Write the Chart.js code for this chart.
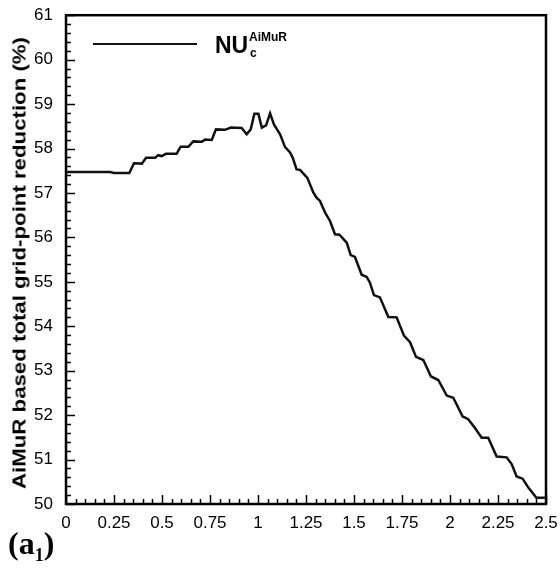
<!DOCTYPE html>
<html>
<head>
<meta charset="utf-8">
<script src="https://cdn.jsdelivr.net/npm/chart.js@4/dist/chart.umd.min.js"></script>
<style>
  body { margin: 0; background: #fff; }
  #wrap { position: relative; width: 560px; height: 569px; }
  .lbl { position: absolute; font-family: "Liberation Sans", Arial, sans-serif; font-weight: bold; white-space: nowrap; color: #000; }
  #swatch { position: absolute; left: 93px; top: 43px; width: 104px; height: 0; border-top: 2.5px solid #111; }
  #nu { left: 215px; top: 34px; font-size: 23px; line-height: 23px; }
  #sup { left: 249px; top: 31px; font-size: 12px; line-height: 12px; }
  #sub { left: 250px; top: 47px; font-size: 12px; line-height: 12px; }
  #ytitle { left: 19px; top: 263px; font-size: 19px; line-height: 19px;
    transform: translate(-50%, -50%) rotate(-90deg) scaleX(1.17); }
  #tag { position: absolute; left: 8px; top: 525px; font-family: "Liberation Serif", "Times New Roman", serif; font-weight: bold; font-size: 32px; }
  #tag sub { font-size: 18px; vertical-align: -7px; }
</style>
</head>
<body>
<div id="wrap">
  <canvas id="c" width="560" height="569"></canvas>
  <div id="swatch"></div>
  <div class="lbl" id="nu">NU</div>
  <div class="lbl" id="sup">AiMuR</div>
  <div class="lbl" id="sub">c</div>
  <div class="lbl" id="ytitle">AiMuR based total grid-point reduction (%)</div>
  <div id="tag">(a<sub>1</sub>)</div>
</div>
<script>
// values
var xVals = [0, 0.23, 0.25, 0.33, 0.354, 0.395, 0.417, 0.464, 0.48, 0.498, 0.521, 0.576, 0.597, 0.637,
  0.663, 0.707, 0.724, 0.759, 0.781, 0.828, 0.859, 0.915, 0.941, 0.962, 0.981, 1.002, 1.02, 1.042,
  1.063, 1.083, 1.115, 1.141, 1.167, 1.181, 1.201, 1.219, 1.257, 1.288, 1.306, 1.323, 1.349, 1.375,
  1.401, 1.424, 1.462, 1.483, 1.505, 1.54, 1.566, 1.583, 1.604, 1.635, 1.679, 1.722, 1.76, 1.792,
  1.823, 1.861, 1.901, 1.939, 1.983, 2.017, 2.066, 2.095, 2.13, 2.165, 2.199, 2.243, 2.295, 2.321,
  2.347, 2.378, 2.408, 2.45, 2.5];
var yVals = [57.47, 57.47, 57.45, 57.45, 57.67, 57.66, 57.79, 57.79, 57.85, 57.83, 57.88, 57.88, 58.04, 58.04,
  58.16, 58.15, 58.2, 58.19, 58.43, 58.42, 58.47, 58.46, 58.32, 58.43, 58.78, 58.78, 58.47, 58.52,
  58.79, 58.54, 58.32, 58.03, 57.91, 57.79, 57.53, 57.52, 57.34, 57.01, 56.89, 56.82, 56.56, 56.37,
  56.07, 56.06, 55.88, 55.6, 55.56, 55.16, 55.11, 54.98, 54.7, 54.65, 54.21, 54.2, 53.79, 53.64,
  53.31, 53.24, 52.87, 52.79, 52.44, 52.39, 51.97, 51.91, 51.71, 51.49, 51.49, 51.07, 51.05, 50.9,
  50.62, 50.57, 50.37, 50.14, 50.14];

var xTickValues = [0, 0.25, 0.5, 0.75, 1, 1.25, 1.5, 1.75, 2, 2.25, 2.5];
var yTickValues = [50, 51, 52, 53, 54, 55, 56, 57, 58, 59, 60, 61];

var points = xVals.map(function (x, i) { return { x: x, y: yVals[i] }; });

// inward major/minor ticks and the box round the plot
var frameTicks = {
  id: 'frameTicks',
  afterDraw: function (chart) {
    var ctx = chart.ctx, a = chart.chartArea, xs = chart.scales.x, ys = chart.scales.y;
    ctx.save();
    ctx.strokeStyle = '#000';
    ctx.lineWidth = 1.5;
    for (var i = 0; i <= 50; i++) {
      var px = Math.round(xs.getPixelForValue(i * 0.05)) + 0.5;
      ctx.beginPath();
      ctx.moveTo(px, a.bottom);
      ctx.lineTo(px, a.bottom - (i % 5 === 0 ? 9 : 5));
      ctx.stroke();
    }
    for (var j = 0; j <= 55; j++) {
      var py = Math.round(ys.getPixelForValue(50 + j * 0.2)) + 0.5;
      ctx.beginPath();
      ctx.moveTo(a.left, py);
      ctx.lineTo(a.left + (j % 5 === 0 ? 9 : 5), py);
      ctx.stroke();
    }
    ctx.lineWidth = 2.5;
    ctx.strokeRect(a.left, a.top, a.right - a.left, a.bottom - a.top);
    ctx.restore();
  }
};

var tickFont = { family: '"Liberation Sans", Arial, sans-serif', size: 17 };

new Chart(document.getElementById('c'), {
  type: 'scatter',
  data: {
    datasets: [{
      data: points,
      showLine: true,
      borderColor: '#111',
      borderWidth: 2.5,
      pointRadius: 0,
      tension: 0
    }]
  },
  options: {
    responsive: false,
    animation: false,
    layout: { padding: { left: 0, right: 14, top: 14, bottom: 0 } },
    plugins: { legend: { display: false }, tooltip: { enabled: false } },
    scales: {
      x: {
        type: 'linear', min: 0, max: 2.5,
        grid: { display: false },
        border: { display: false },
        afterBuildTicks: function (s) { s.ticks = xTickValues.map(function (v) { return { value: v }; }); },
        afterFit: function (s) { s.height = 65; },
        ticks: { color: '#000', font: tickFont, padding: 1, maxRotation: 0, autoSkip: false,
          callback: function (v) { return String(v); } }
      },
      y: {
        type: 'linear', min: 50, max: 61,
        grid: { display: false },
        border: { display: false },
        afterBuildTicks: function (s) { s.ticks = yTickValues.map(function (v) { return { value: v }; }); },
        afterFit: function (s) { s.width = 66; },
        ticks: { color: '#000', font: tickFont, padding: 5,
          callback: function (v) { return String(v); } }
      }
    }
  },
  plugins: [frameTicks]
});
</script>
</body>
</html>
